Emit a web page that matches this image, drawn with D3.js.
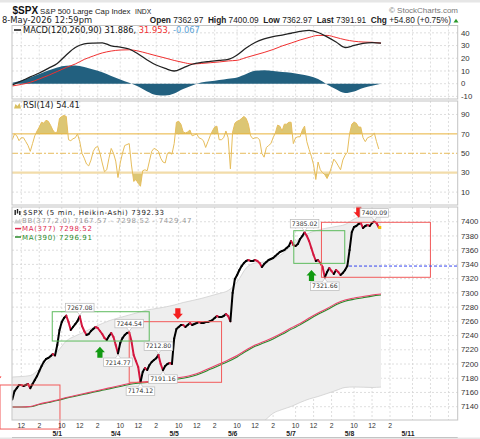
<!DOCTYPE html>
<html>
<head>
<meta charset="utf-8">
<script src="https://cdn.jsdelivr.net/npm/d3@7"></script>
<style>
  body { margin: 0; background: #fff; }
  svg { display: block; }
</style>
</head>
<body>
<svg id="chart" width="480" height="439"></svg>
<script>
/* Data */
const days = ['4/30', '5/1', '5/4', '5/5', '5/6', '5/7', '5/8', '5/11'];
const timeTicks = [{ min: 30, label: '10' }, { min: 150, label: '12' }, { min: 270, label: '2' }];
const macdTicks = [40, 30, 20, 10, 0, -10];
const rsiTicks = [90, 70, 50, 30, 10];
const priceTicks = [7400, 7380, 7360, 7340, 7320, 7300, 7280, 7260, 7240, 7220, 7200, 7180, 7160, 7140];

const BARS_PER_DAY = 78;           // 5 min bars, 9:30 - 16:00
const FIRST_BAR = 18;              // 4/30 11:00
const STEP_15 = 3;                 // 15 min samples
const STEP_60 = 12;                // hourly samples

// 15 min Heikin-Ashi closes
const spxClose = [
  // 4/30
  7150, 7162, 7166, 7170.5, 7170.5, 7169, 7170.5, 7172, 7166, 7172, 7177.5, 7183, 7190, 7197, 7203, 7207, 7208.4, 7211, 7214, 7212,
  // 5/1
  7226.7, 7247.8, 7259, 7264.6, 7268, 7259, 7247.8, 7252, 7256.2, 7260.4, 7267.1, 7253.4, 7246.4, 7240.8, 7242.2, 7246.4, 7249.2, 7252, 7250.6, 7246.4, 7242.2, 7236.5, 7233.7, 7239.3, 7243.6, 7238,
  // 5/4
  7226.7, 7214.8, 7229.5, 7236.5, 7240.8, 7243.6, 7244.5, 7232.3, 7212.6, 7204.2, 7195.8, 7174.1, 7188.8, 7194.4, 7191.6, 7198.6, 7202.8, 7205.6, 7208, 7212.8, 7200, 7191.2, 7197.2, 7200, 7201.4, 7200,
  // 5/5
  7236, 7249.2, 7252, 7254.8, 7254.8, 7252, 7254.8, 7257.6, 7254.8, 7256.2, 7257.6, 7259, 7257.6, 7257.6, 7259, 7259, 7260.4, 7261.8, 7264.6, 7267.5, 7266, 7266, 7267.5, 7270.3, 7267.5, 7260,
  // 5/6
  7300, 7319.5, 7325.1, 7332.1, 7337.7, 7342, 7344.8, 7346.2, 7344.8, 7344.8, 7346.2, 7344.8, 7342, 7336.3, 7340.5, 7343.4, 7346.2, 7347.6, 7349, 7351.8, 7354.6, 7357.4, 7358.8, 7360.2, 7363, 7365.8,
  // 5/7
  7372.9, 7367.3, 7365.8, 7368.7, 7375.7, 7379.9, 7385, 7379.9, 7372.9, 7363, 7353.2, 7344.8, 7346.2, 7342, 7336.3, 7321.7, 7329.3, 7334.9, 7330.7, 7326.5, 7332.1, 7329.3, 7325.1, 7328, 7332.1, 7337.7,
  // 5/8
  7360.2, 7385.5, 7392.6, 7394, 7396.8, 7398.2, 7391.1, 7394, 7395.4, 7394, 7398.2, 7400.1, 7398.2, 7391.9
];

// RSI(14), same 15 min samples
const rsi14 = [
  64, 70, 68, 63, 66, 66, 62, 58, 52, 60, 68, 73, 77, 82, 81, 84, 83, 79, 74, 71,
  72, 86, 88, 89, 88, 64, 63, 65, 66, 70, 62, 50, 45, 39, 37, 43, 52, 56, 57, 50, 40, 31, 33, 45, 55, 50,
  42, 25, 40, 50, 58, 59, 60, 38, 21, 23, 19, 16, 32, 33, 32, 42, 52, 55, 54, 52, 45, 41, 40, 50, 51, 49,
  60, 82, 83, 80, 72, 71, 72, 74, 68, 69, 70, 66, 65, 63, 56, 62, 68, 73, 77, 78, 64, 64, 66, 73, 66, 34,
  72, 81, 83, 84, 86, 88, 86, 80, 68, 65, 66, 66, 64, 50, 46, 56, 58, 60, 66, 71, 79, 78, 73, 80, 80, 82,
  82, 60, 66, 67, 67, 74, 78, 62, 54, 47, 38, 23, 41, 33, 30, 28, 24, 29, 36, 44, 41, 37, 33, 43, 48, 51,
  70, 80, 82, 81, 77, 77, 66, 62, 66, 67, 68, 71, 62, 54.41
];

// hourly samples
const ma377 = [7139.6, 7139.6, 7140.3, 7143.8, 7146.6, 7149.4, 7152.9, 7155.7, 7158.5, 7161.3,
  7164.2, 7167, 7169.8, 7172.6, 7174.3, 7175.4, 7176.4, 7177.8, 7179.6, 7181.7,
  7184.5, 7188.8, 7194.4, 7200, 7205.6, 7211.9, 7219.7, 7226.7, 7231.6, 7237.2,
  7243.6, 7250.6, 7256.9, 7264.6, 7271.7, 7278, 7285, 7290, 7292.8, 7294.9, 7297, 7298.52];
const ma390 = [7139.6, 7139.6, 7140, 7143, 7145.8, 7148.6, 7152, 7154.8, 7157.5, 7160.2,
  7163, 7165.8, 7168.5, 7171.3, 7173, 7174, 7175, 7176.3, 7178, 7180,
  7182.8, 7187, 7192.5, 7198, 7203.6, 7210, 7217.8, 7224.8, 7229.8, 7235.3,
  7241.7, 7248.7, 7255, 7262.7, 7269.8, 7276.2, 7283.2, 7288.2, 7291, 7293.2, 7295.4, 7296.91];
const bbUpper = [7181.7, 7182.4, 7183.8, 7193, 7204.2, 7216.9, 7232.3, 7239.4, 7245, 7251.3,
  7256.9, 7261.8, 7265.4, 7268.9, 7272.4, 7275.9, 7278, 7280.1, 7282.9, 7286.4,
  7289.2, 7292.1, 7295.6, 7299.1, 7303.3, 7315.2, 7334.9, 7342, 7343.4, 7347.6,
  7354.6, 7365.8, 7377.1, 7384.1, 7388.3, 7391.1, 7393.3, 7396.1, 7403.8, 7409.4, 7413.6, 7417.8];
const bbLower = [7095, 7095, 7094, 7092, 7088, 7082, 7074, 7070, 7068, 7067,
  7066, 7067, 7068, 7070, 7072, 7073, 7074, 7075, 7076, 7077,
  7078, 7080, 7085, 7092, 7098, 7102, 7106, 7112, 7120, 7130.7,
  7136, 7140.3, 7145.9, 7150.8, 7154.3, 7158.5, 7162.8, 7167, 7167.7, 7167.4, 7167, 7167.57];
const macdLine = [-1.0, 2.1, 5.3, 8.4, 12.1, 15.9, 22.6, 28.5, 31.3, 32,
  32.2, 29.8, 28.7, 27.3, 23.4, 18.7, 14.7, 12, 10, 12.5,
  15.3, 16.7, 17.5, 18.3, 19.1, 22.6, 28.1, 32.4, 35.2, 37,
  38.3, 39.7, 41.1, 42, 40.3, 36.8, 32.8, 28.5, 30.1, 31.8, 32.4, 31.886];
const macdSignal = [-1.8, -0.6, 1.1, 3.7, 6.5, 9.6, 12.8, 15.5, 19.1, 21.8,
  24.2, 25.7, 26.5, 26.7, 25.7, 23.9, 22, 20.2, 18.3, 16.7,
  15.5, 15.9, 16.5, 17.1, 17.9, 18.4, 20.6, 22.6, 24.6, 26.9,
  29.7, 32, 34.4, 36.4, 38, 38, 36.4, 34.6, 33.4, 32.8, 32.6, 31.953];
const macdHist = [0.8, 2.5, 4.9, 7.6, 10.4, 12.8, 14.2, 14.3, 13.1, 11.2,
  9, 6.1, 3.3, 0.7, -2.2, -6.1, -8.9, -9.3, -7.7, -4.2,
  -1.4, 0.9, 1.9, 2.9, 3.9, 4.9, 7.6, 10.2, 10.6, 10,
  9.2, 8.6, 7.4, 6.1, 3.7, -0.6, -4.4, -7.3, -6.1, -3.4, -1.7, -0.067];

// annotations (bar index from 4/30 9:30, price)
const priceLabels = [
  { bar: 108, v: 7267.08, side: 'above' },
  { bar: 174, v: 7244.54, side: 'above' },
  { bar: 159, v: 7214.77, side: 'below' },
  { bar: 213, v: 7212.80, side: 'above' },
  { bar: 219, v: 7191.16, side: 'below' },
  { bar: 189, v: 7174.12, side: 'below' },
  { bar: 408, v: 7385.02, side: 'above' },
  { bar: 435, v: 7321.66, side: 'below' },
  { bar: 501, v: 7400.09, side: 'above' }
];
const redBoxes = [
  { bar0: 1.6, bar1: 81.6, top: 7170.5, bottom: 7108.6 },
  { bar0: 174, bar1: 297.2, top: 7259.5, bottom: 7174.3 },
  { bar0: 430.5, bar1: 575.9, top: 7399.2, bottom: 7321.9 }
];
const greenBoxes = [
  { bar0: 71.3, bar1: 200.7, top: 7273.5, bottom: 7232.3 },
  { bar0: 393.6, bar1: 461.6, top: 7387.4, bottom: 7341.5 }
];
const arrows = [
  { bar: 134.9, v: 7224.3, dir: 'up' },
  { bar: 417.2, v: 7332.1, dir: 'up' },
  { bar: 238.9, v: 7262.8, dir: 'down' },
  { bar: 480.3, v: 7405.6, dir: 'down' },
  { bar: -3.1, v: 7174.7, dir: 'down' }
];
const hLine = { bar0: 467.3, v: 7337.7 };

/* Layout */
const FONT = '"Liberation Sans", Arial, sans-serif';
const VFONT = '"DejaVu Sans", Verdana, sans-serif';
const plotL = 12, plotR = 457.7;
const P = {
  macd: { top: 25.5, bottom: 99 },
  rsi: { top: 101, bottom: 205 },
  price: { top: 207, bottom: 420 }
};

const x = d3.scaleLinear().domain([17.6, 612.3]).range([plotL, plotR]);
const yMacd = d3.scaleLinear().domain([-12.05, 45.8]).range([P.macd.bottom, P.macd.top]);
const yRsi = d3.scaleLinear().domain([-3.3, 103.9]).range([P.rsi.bottom, P.rsi.top]);
const yPx = d3.scaleLinear().domain([7121.3, 7420.7]).range([P.price.bottom, P.price.top]);

const series = (arr, step) => arr.map((v, i) => ({ bar: FIRST_BAR + i * step, v: v }));

const svg = d3.select('#chart');
const defs = svg.append('defs');

/* Header */
svg.append('rect').attr('x', 0).attr('y', 0).attr('width', 480).attr('height', 2.5).attr('fill', '#e6e6e6');

svg.append('text').attr('x', 12.5).attr('y', 14).attr('font-family', FONT)
  .attr('font-weight', 'bold').attr('font-size', 10).attr('fill', '#111').text('$SPX');
svg.append('text').attr('x', 40).attr('y', 13.5).attr('font-family', FONT)
  .attr('font-size', 7.8).attr('fill', '#222').text('S&P 500 Large Cap Index');
svg.append('text').attr('x', 135).attr('y', 13.5).attr('font-family', FONT)
  .attr('font-size', 6.8).attr('fill', '#222').text('INDX');
svg.append('text').attr('x', 458).attr('y', 13).attr('text-anchor', 'end').attr('font-family', FONT)
  .attr('font-size', 8).attr('fill', '#777').text('\u00a9 StockCharts.com');

svg.append('text').attr('x', 2).attr('y', 23).attr('font-family', VFONT)
  .attr('font-size', 8.4).attr('fill', '#222').text('8-May-2026 12:59pm');

const quote = svg.append('text').attr('x', 451).attr('y', 23).attr('text-anchor', 'end')
  .attr('font-family', FONT).attr('font-size', 8.3).attr('fill', '#222').attr('xml:space', 'preserve');
[['Open', true], [' 7362.97  ', false], ['High', true], [' 7400.09  ', false], ['Low', true],
 [' 7362.97  ', false], ['Last', true], [' 7391.91  ', false], ['Chg', true], [' +54.80 (+0.75%)', false]]
  .forEach(p => quote.append('tspan').attr('font-weight', p[1] ? 'bold' : 'normal').text(p[0]));
svg.append('path').attr('d', 'M453.5,22.5L456,18.8L458.5,22.5Z').attr('fill', '#2a9a2a');

/* Panels */
Object.keys(P).forEach(k => {
  const p = P[k];
  svg.append('rect').attr('x', plotL).attr('y', p.top).attr('width', plotR - plotL)
    .attr('height', p.bottom - p.top).attr('fill', '#fff');
  defs.append('clipPath').attr('id', 'clip-' + k).append('rect')
    .attr('x', plotL).attr('y', p.top).attr('width', plotR - plotL).attr('height', p.bottom - p.top);
});

// vertical time grid
const timeGrid = [];
days.forEach((d, i) => timeTicks.forEach(t => {
  const b = i * BARS_PER_DAY + t.min / 5;
  if (b >= x.domain()[0] && b <= x.domain()[1]) timeGrid.push({ bar: b, label: t.label, day: i });
}));

const grid = svg.append('g').attr('stroke', '#d6d6d6').attr('stroke-width', 0.8)
  .attr('stroke-dasharray', '2,2');
Object.keys(P).forEach(k => {
  grid.append('g').selectAll('line').data(timeGrid).enter().append('line')
    .attr('x1', d => x(d.bar)).attr('x2', d => x(d.bar))
    .attr('y1', P[k].top).attr('y2', P[k].bottom);
});
grid.append('g').selectAll('line').data(macdTicks).enter().append('line')
  .attr('x1', plotL).attr('x2', plotR).attr('y1', d => yMacd(d)).attr('y2', d => yMacd(d));
grid.append('g').selectAll('line').data(rsiTicks.filter(d => d === 90 || d === 10)).enter().append('line')
  .attr('x1', plotL).attr('x2', plotR).attr('y1', d => yRsi(d)).attr('y2', d => yRsi(d));
grid.append('g').selectAll('line').data(priceTicks).enter().append('line')
  .attr('x1', plotL).attr('x2', plotR).attr('y1', d => yPx(d)).attr('y2', d => yPx(d));

/* MACD */
const gMacd = svg.append('g').attr('clip-path', 'url(#clip-macd)');
gMacd.append('path').datum(series(macdHist, STEP_60))
  .attr('d', d3.area().curve(d3.curveMonotoneX).x(d => x(d.bar)).y0(yMacd(0)).y1(d => yMacd(d.v)))
  .attr('fill', '#22607f');
gMacd.append('path').datum(series(macdSignal, STEP_60))
  .attr('d', d3.line().curve(d3.curveMonotoneX).x(d => x(d.bar)).y(d => yMacd(d.v)))
  .attr('fill', 'none').attr('stroke', '#f03030').attr('stroke-width', 1);
gMacd.append('path').datum(series(macdLine, STEP_60))
  .attr('d', d3.line().curve(d3.curveMonotoneX).x(d => x(d.bar)).y(d => yMacd(d.v)))
  .attr('fill', 'none').attr('stroke', '#222').attr('stroke-width', 1.3);

/* RSI */
const gRsi = svg.append('g').attr('clip-path', 'url(#clip-rsi)');
const rsiPts = series(rsi14, STEP_15);
defs.append('clipPath').attr('id', 'rsi-hi').append('rect')
  .attr('x', plotL).attr('y', P.rsi.top).attr('width', plotR - plotL).attr('height', yRsi(70) - P.rsi.top);
defs.append('clipPath').attr('id', 'rsi-lo').append('rect')
  .attr('x', plotL).attr('y', yRsi(30)).attr('width', plotR - plotL).attr('height', P.rsi.bottom - yRsi(30));
gRsi.append('path').datum(rsiPts).attr('clip-path', 'url(#rsi-hi)')
  .attr('d', d3.area().x(d => x(d.bar)).y0(yRsi(70)).y1(d => yRsi(d.v))).attr('fill', '#dcc674');
gRsi.append('path').datum(rsiPts).attr('clip-path', 'url(#rsi-lo)')
  .attr('d', d3.area().x(d => x(d.bar)).y0(yRsi(30)).y1(d => yRsi(d.v))).attr('fill', '#dcc674');
gRsi.append('line').attr('x1', plotL).attr('x2', plotR).attr('y1', yRsi(30)).attr('y2', yRsi(30))
  .attr('stroke', '#f2dcaa').attr('stroke-width', 2.2);
gRsi.append('line').attr('x1', plotL).attr('x2', plotR).attr('y1', yRsi(70)).attr('y2', yRsi(70))
  .attr('stroke', '#e8b23a').attr('stroke-width', 1);
gRsi.append('line').attr('x1', plotL).attr('x2', plotR).attr('y1', yRsi(50)).attr('y2', yRsi(50))
  .attr('stroke', '#e3b34a').attr('stroke-width', 0.9).attr('stroke-dasharray', '6,2,2,2');
gRsi.append('path').datum(rsiPts)
  .attr('d', d3.line().x(d => x(d.bar)).y(d => yRsi(d.v)))
  .attr('fill', 'none').attr('stroke', '#e6bd5c').attr('stroke-width', 1);

/* Price */
const gPx = svg.append('g').attr('clip-path', 'url(#clip-price)');
const upPts = series(bbUpper, STEP_60);
const loPts = series(bbLower, STEP_60);
gPx.append('path').datum(upPts.map((d, i) => ({ bar: d.bar, hi: d.v, lo: loPts[i].v })))
  .attr('d', d3.area().curve(d3.curveMonotoneX).x(d => x(d.bar)).y0(d => yPx(d.lo)).y1(d => yPx(d.hi)))
  .attr('fill', '#eeeeee');
[upPts, loPts].forEach(s => gPx.append('path').datum(s)
  .attr('d', d3.line().curve(d3.curveMonotoneX).x(d => x(d.bar)).y(d => yPx(d.v)))
  .attr('fill', 'none').attr('stroke', '#cfcfcf').attr('stroke-width', 0.8));

gPx.append('path').datum(series(ma390, STEP_60))
  .attr('d', d3.line().curve(d3.curveMonotoneX).x(d => x(d.bar)).y(d => yPx(d.v)))
  .attr('fill', 'none').attr('stroke', '#2a8a2a').attr('stroke-width', 1.1);
gPx.append('path').datum(series(ma377, STEP_60))
  .attr('d', d3.line().curve(d3.curveMonotoneX).x(d => x(d.bar)).y(d => yPx(d.v)))
  .attr('fill', 'none').attr('stroke', '#e8426a').attr('stroke-width', 1.1);

const pxPts = series(spxClose, STEP_15);
gPx.append('g').selectAll('line').data(d3.pairs(pxPts)).enter().append('line')
  .attr('x1', d => x(d[0].bar)).attr('y1', d => yPx(d[0].v))
  .attr('x2', d => x(d[1].bar)).attr('y2', d => yPx(d[1].v))
  .attr('stroke', d => d[1].v >= d[0].v ? '#000' : '#d4173f')
  .attr('stroke-width', 2).attr('stroke-linecap', 'round');
const last = pxPts[pxPts.length - 1];
svg.append('rect').attr('x', x(last.bar) - 0.5).attr('y', yPx(last.v) - 1.5)
  .attr('width', 3).attr('height', 3).attr('fill', '#f5c000');

/* Annotations */
const gAnn = svg.append('g');
gAnn.selectAll('rect.red').data(redBoxes).enter().append('rect')
  .attr('x', d => x(d.bar0)).attr('y', d => yPx(d.top))
  .attr('width', d => x(d.bar1) - x(d.bar0)).attr('height', d => yPx(d.bottom) - yPx(d.top))
  .attr('fill', 'none').attr('stroke', '#f25a5a').attr('stroke-width', 1);
gAnn.selectAll('rect.green').data(greenBoxes).enter().append('rect')
  .attr('x', d => x(d.bar0)).attr('y', d => yPx(d.top))
  .attr('width', d => x(d.bar1) - x(d.bar0)).attr('height', d => yPx(d.bottom) - yPx(d.top))
  .attr('fill', 'none').attr('stroke', '#5dbb5d').attr('stroke-width', 1);
gAnn.append('line').attr('x1', x(hLine.bar0)).attr('x2', plotR)
  .attr('y1', yPx(hLine.v)).attr('y2', yPx(hLine.v))
  .attr('stroke', '#3344ee').attr('stroke-width', 1).attr('stroke-dasharray', '3,2');

function arrowPath(cx, tip, dir) {
  const s = dir === 'up' ? 1 : -1;     // body grows downward from an up tip
  const hw = 5, sw = 2.6, hh = 5.5, len = 11;
  return 'M' + cx + ',' + tip +
    'L' + (cx - hw) + ',' + (tip + s * hh) + 'L' + (cx - sw) + ',' + (tip + s * hh) +
    'L' + (cx - sw) + ',' + (tip + s * len) + 'L' + (cx + sw) + ',' + (tip + s * len) +
    'L' + (cx + sw) + ',' + (tip + s * hh) + 'L' + (cx + hw) + ',' + (tip + s * hh) + 'Z';
}
gAnn.selectAll('path.arrow').data(arrows).enter().append('path')
  .attr('d', d => arrowPath(x(d.bar), yPx(d.v), d.dir))
  .attr('fill', d => d.dir === 'up' ? '#129a12' : '#f42020');

priceLabels.forEach(l => {
  const px = x(l.bar), py = yPx(l.v);
  const g = gAnn.append('g');
  const t = g.append('text').attr('font-family', VFONT).attr('font-size', 6.2)
    .attr('text-anchor', 'middle').attr('fill', '#333').text(l.v.toFixed(2));
  const w = t.node().getComputedTextLength() + 3, h = 8.5;
  const by = l.side === 'above' ? py - 4.5 - h : py + 4.5;
  g.insert('rect', 'text').attr('x', px - w / 2).attr('y', by).attr('width', w).attr('height', h)
    .attr('fill', '#fff').attr('stroke', '#b8b8b8').attr('stroke-width', 0.7);
  t.attr('x', px).attr('y', by + h - 2);
  const baseY = l.side === 'above' ? by + h : by;
  const tipY = l.side === 'above' ? py - 1 : py + 1;
  g.append('path').attr('d', 'M' + (px - 2.5) + ',' + baseY + 'L' + px + ',' + tipY + 'L' + (px + 2.5) + ',' + baseY)
    .attr('fill', '#fff').attr('stroke', '#b8b8b8').attr('stroke-width', 0.6);
});

/* Panel borders */
Object.keys(P).forEach(k => {
  svg.append('rect').attr('x', plotL).attr('y', P[k].top).attr('width', plotR - plotL)
    .attr('height', P[k].bottom - P[k].top).attr('fill', 'none').attr('stroke', '#c4c4c4').attr('stroke-width', 1);
});
svg.append('rect').attr('x', 0).attr('y', 437.5).attr('width', 480).attr('height', 1.5).attr('fill', '#e6e6e6');
svg.append('line').attr('x1', plotL).attr('x2', plotR).attr('y1', 437.5).attr('y2', 437.5).attr('stroke', '#c4c4c4');

/* Axes (right side labels) */
function rightAxis(ticks, scale) {
  svg.append('g').selectAll('text').data(ticks).enter().append('text')
    .attr('x', 461).attr('y', d => scale(d) + 2.7)
    .attr('font-family', FONT).attr('font-size', 7.8).attr('fill', '#333')
    .text(d => d);
}
rightAxis(macdTicks, yMacd);
rightAxis(rsiTicks, yRsi);
rightAxis(priceTicks, yPx);

// time axis
svg.append('g').selectAll('text').data(timeGrid.filter(d => d.day <= 6)).enter().append('text')
  .attr('x', d => x(d.bar)).attr('y', 428.2).attr('text-anchor', 'middle')
  .attr('font-family', FONT).attr('font-size', 6.8).attr('fill', '#333').text(d => d.label);
svg.append('g').selectAll('text').data(days.map((d, i) => ({ d: d, bar: i * BARS_PER_DAY })).filter(d => x(d.bar) > plotL))
  .enter().append('text')
  .attr('x', d => x(d.bar)).attr('y', 436.4).attr('text-anchor', 'middle')
  .attr('font-family', FONT).attr('font-weight', 'bold').attr('font-size', 6.8).attr('fill', '#222').text(d => d.d);

/* Legends */
const legend = svg.append('g').attr('font-family', VFONT).attr('font-size', 8.3);

legend.append('line').attr('x1', 14).attr('x2', 21).attr('y1', 30).attr('y2', 30).attr('stroke', '#111').attr('stroke-width', 1.5);
const macdLeg = legend.append('text').attr('x', 23).attr('y', 33).attr('xml:space', 'preserve');
macdLeg.append('tspan').attr('fill', '#111').text('MACD(120,260,90) 31.886, ');
macdLeg.append('tspan').attr('fill', '#f03030').text('31.953, ');
macdLeg.append('tspan').attr('fill', '#5aa2d6').text('-0.067');

legend.append('path').attr('d', 'M14,108.5L15.5,104L17.5,106L19.5,103L21,108.5Z').attr('fill', '#d9bf60');
legend.append('text').attr('x', 23).attr('y', 108.3).attr('fill', '#222').text('RSI(14) 54.41');

// price panel legend, tighter rows
const pLeg = legend.append('g').attr('font-size', 7).attr('letter-spacing', 0.65);
pLeg.append('g').selectAll('rect').data([0, 1, 2]).enter().append('rect')
  .attr('x', (d, i) => 14.5 + i * 2.3).attr('y', (d, i) => [210, 209, 211][i])
  .attr('width', 1.4).attr('height', (d, i) => [5, 4.5, 4][i]).attr('fill', '#222');
pLeg.append('text').attr('x', 23).attr('y', 214.5).attr('fill', '#222').text('$SPX (5 min, Heikin-Ashi) 7392.33');

pLeg.append('path').attr('d', 'M14,223.5L16,219L18,221L20,218.5L21,223.5Z').attr('fill', '#cfcfcf');
pLeg.append('text').attr('x', 22).attr('y', 223).attr('fill', '#9a9a9a').text('BB(377,2.0) 7167.57 - 7298.52 - 7429.47');

pLeg.append('line').attr('x1', 15).attr('x2', 21).attr('y1', 228.6).attr('y2', 228.6).attr('stroke', '#e0294f').attr('stroke-width', 1.5);
pLeg.append('text').attr('x', 22).attr('y', 231.4).attr('fill', '#e0294f').text('MA(377) 7298.52');

pLeg.append('line').attr('x1', 15).attr('x2', 21).attr('y1', 237).attr('y2', 237).attr('stroke', '#2a8a2a').attr('stroke-width', 1.5);
pLeg.append('text').attr('x', 22).attr('y', 239.8).attr('fill', '#2a8a2a').text('MA(390) 7296.91');
</script>
</body>
</html>
